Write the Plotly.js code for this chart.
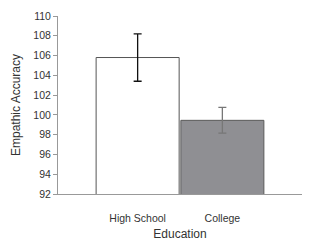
<!DOCTYPE html>
<html><head><meta charset="utf-8">
<script src="https://cdn.plot.ly/plotly-3.0.1.min.js"></script>
<style>html,body{margin:0;padding:0;background:#fff}#c{width:320px;height:244px}</style>
</head><body><div id="c"></div>
<script>
const categories = ["High School", "College"];
const values = [105.8, 99.45];
const errors = [2.4, 1.3];
const barFills = ["#ffffff", "#8f8f93"];
const barLines = ["#555555", "#5a5a5a"];
const errColors = ["#111111", "#777777"];

const traces = categories.map((c, i) => ({
  type: "bar",
  x: [c],
  y: [values[i]],
  width: 0.98,
  marker: {color: barFills[i], line: {color: barLines[i], width: 1}},
  error_y: {type: "data", array: [errors[i]], visible: true, color: errColors[i], thickness: 1.3, width: 4},
  showlegend: false,
  hoverinfo: "none"
}));

const layout = {
  width: 320, height: 244,
  margin: {l: 58, r: 18, t: 16, b: 50},
  paper_bgcolor: "#fff", plot_bgcolor: "#fff",
  font: {family: "Liberation Sans, Arial, sans-serif", size: 10.5, color: "#333"},
  barmode: "overlay",
  xaxis: {
    type: "category", categoryarray: categories, range: [-0.94, 1.94],
    showline: true, linecolor: "#999", linewidth: 1,
    ticks: "", ticklabelstandoff: 14, showgrid: false, zeroline: false,
    title: {text: "Education", font: {size: 12, color: "#333"}, standoff: 7}
  },
  yaxis: {
    range: [92, 110], dtick: 2, tick0: 92,
    showline: true, linecolor: "#999", linewidth: 1,
    ticks: "outside", ticklen: 4, tickcolor: "#999",
    showgrid: false, zeroline: false,
    title: {text: "Empathic Accuracy", font: {size: 12, color: "#333"}, standoff: 10}
  }
};
Plotly.newPlot("c", traces, layout, {staticPlot: true, displayModeBar: false});
</script></body></html>
